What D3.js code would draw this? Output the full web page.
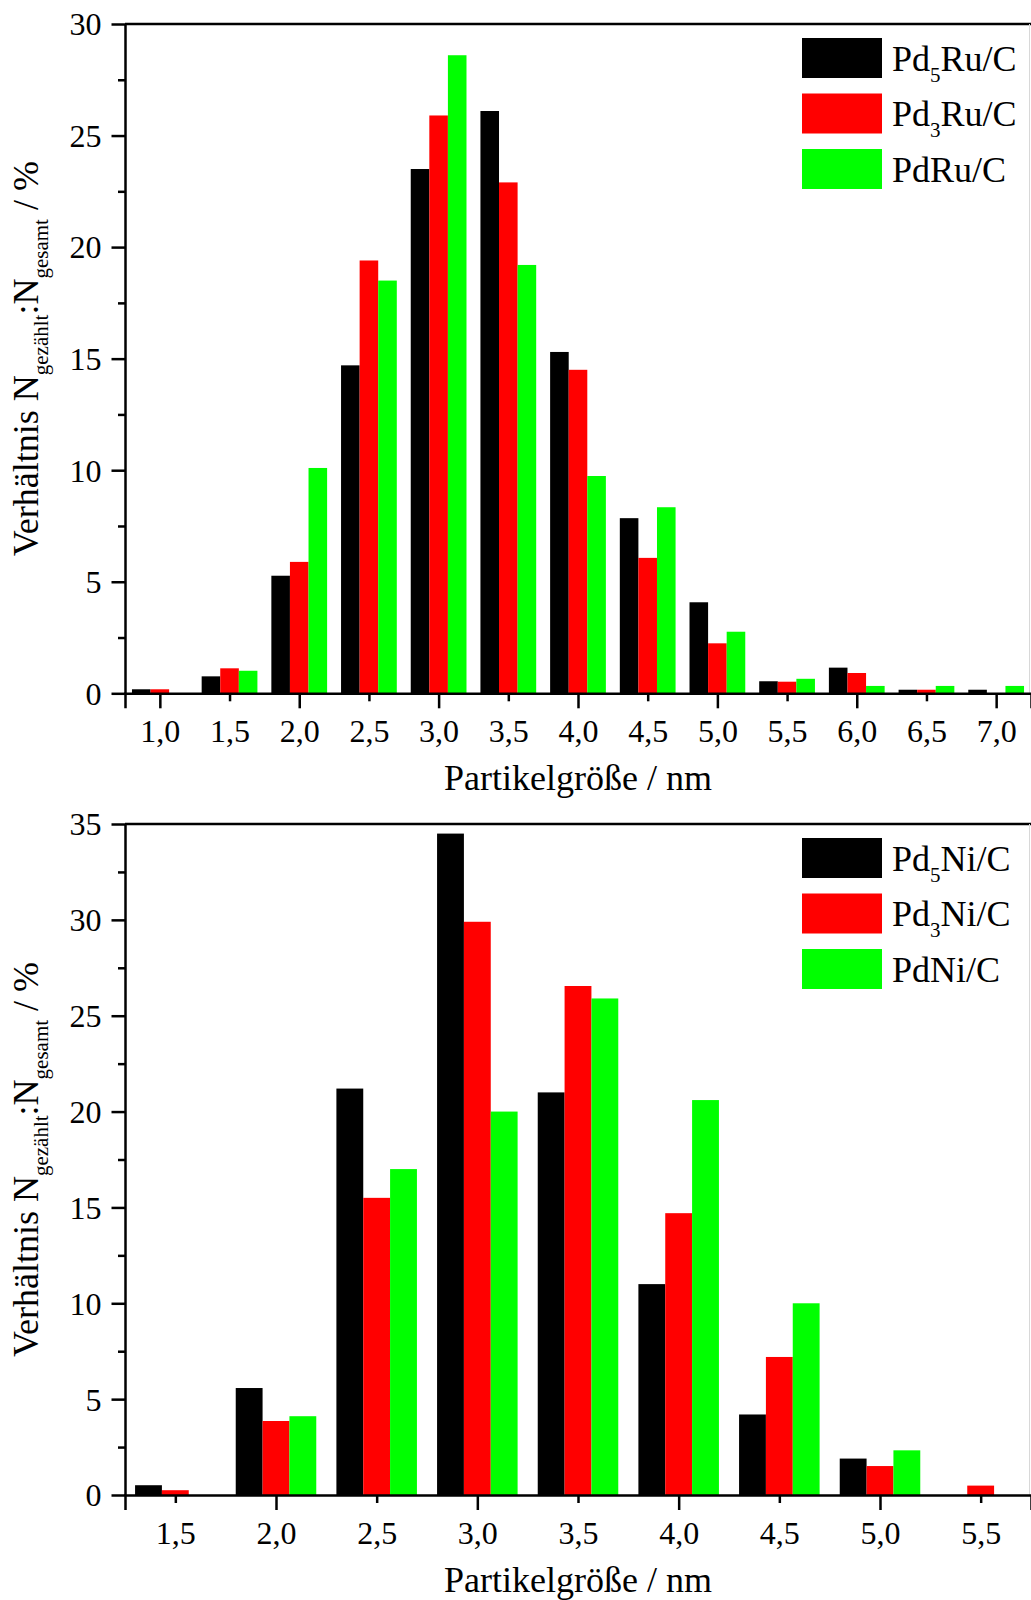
<!DOCTYPE html>
<html><head><meta charset="utf-8">
<script src="https://cdn.jsdelivr.net/npm/d3@7"></script>
<style>
body{margin:0;background:#fff}
svg{display:block}
text{font-family:"Liberation Serif","Times New Roman",serif;fill:#000}
</style>
</head><body><div id="chart"></div>
<script>
// ---------- data ----------
const seriesColors = ["#000000", "#ff0000", "#00ff00"];

const topCategories = [1.0, 1.5, 2.0, 2.5, 3.0, 3.5, 4.0, 4.5, 5.0, 5.5, 6.0, 6.5, 7.0];
const topTickLabels = ["1,0","1,5","2,0","2,5","3,0","3,5","4,0","4,5","5,0","5,5","6,0","6,5","7,0"];
const topPd5Ru = [0.18, 0.76, 5.27, 14.7, 23.5, 26.1, 15.3, 7.85, 4.08, 0.54, 1.15, 0.16, 0.16];
const topPd3Ru = [0.18, 1.12, 5.89, 19.4, 25.9, 22.9, 14.5, 6.07, 2.24, 0.52, 0.91, 0.16, 0];
const topPdRu  = [0, 1.01, 10.1, 18.5, 28.6, 19.2, 9.74, 8.34, 2.76, 0.65, 0.33, 0.33, 0.33];
const topLegend = [["Pd","5","Ru/C"], ["Pd","3","Ru/C"], ["Pd","","Ru/C"]];
const topYTicks = [0, 5, 10, 15, 20, 25, 30];

const botCategories = [1.5, 2.0, 2.5, 3.0, 3.5, 4.0, 4.5, 5.0, 5.5];
const botTickLabels = ["1,5","2,0","2,5","3,0","3,5","4,0","4,5","5,0","5,5"];
const botPd5Ni = [0.51, 5.58, 21.2, 34.5, 21.0, 11.0, 4.2, 1.9, 0];
const botPd3Ni = [0.25, 3.86, 15.5, 29.9, 26.55, 14.7, 7.2, 1.51, 0.49];
const botPdNi  = [0, 4.11, 17.0, 20.0, 25.9, 20.6, 10.0, 2.33, 0];
const botLegend = [["Pd","5","Ni/C"], ["Pd","3","Ni/C"], ["Pd","","Ni/C"]];
const botYTicks = [0, 5, 10, 15, 20, 25, 30, 35];

const xTitle = "Partikelgröße / nm";

// ---------- drawing ----------
const W = 1031, H = 1600;
const svg = d3.select("#chart").append("svg").attr("width", W).attr("height", H);

function drawPanel(o) {
  const g = svg.append("g");
  const x = d3.scaleLinear().domain(o.xDomain).range([o.left, o.right]);
  const y = d3.scaleLinear().domain([0, o.yMax]).range([o.bottom, o.top]);
  const groupW = 0.4, barW = groupW / 3;

  // bars
  o.series.forEach((vals, si) => {
    g.append("g").selectAll("rect").data(vals).join("rect")
      .attr("x", (d, i) => x(o.categories[i] - groupW / 2 + si * barW))
      .attr("width", (d, i) => x(o.categories[i] - groupW / 2 + (si + 1) * barW) - x(o.categories[i] - groupW / 2 + si * barW))
      .attr("y", d => y(d))
      .attr("height", d => y(0) - y(d))
      .attr("fill", seriesColors[si]);
  });

  // frame top & faint right edge
  g.append("line").attr("x1", o.left).attr("x2", o.right).attr("y1", o.top).attr("y2", o.top)
    .attr("stroke", "#000").attr("stroke-width", 2.5);
  g.append("line").attr("x1", o.right - 1.5).attr("x2", o.right - 1.5).attr("y1", o.top).attr("y2", o.bottom)
    .attr("stroke", "#d8d8d8").attr("stroke-width", 1);

  // y minor ticks
  const minorY = d3.range(2.5, o.yMax, 5);
  g.append("g").attr("transform", `translate(${o.left},0)`)
    .call(d3.axisLeft(y).tickValues(minorY).tickSize(7).tickSizeOuter(0).tickFormat(""))
    .call(s => s.select(".domain").remove())
    .call(s => s.selectAll("line").attr("stroke-width", 2.5));
  // y major ticks
  g.append("g").attr("transform", `translate(${o.left},0)`)
    .call(d3.axisLeft(y).tickValues(o.yTicks).tickSize(13.5).tickSizeOuter(0).tickPadding(10).tickFormat(d3.format("d")))
    .call(s => s.select(".domain").attr("stroke-width", 2.5))
    .call(s => s.selectAll("line").attr("stroke-width", 2.5))
    .call(s => s.selectAll("text").attr("font-size", 32).attr("font-family", "Liberation Serif, Times New Roman, serif").attr("dy", "0.34em"));

  // x axis
  g.append("g").attr("transform", `translate(0,${o.bottom})`)
    .call(d3.axisBottom(x).tickValues(o.categories).tickSizeOuter(0).tickSize(15)
      .tickFormat((d, i) => o.tickLabels[i]))
    .call(s => s.select(".domain").attr("stroke-width", 2.5))
    .call(s => s.selectAll(".tick line").attr("stroke-width", 2.5)
      .attr("y2", d => Number.isInteger(d) ? 15 : 8))
    .call(s => s.selectAll("text").attr("font-size", 32).attr("font-family", "Liberation Serif, Times New Roman, serif")
      .attr("y", 49).attr("dy", 0));

  // x title
  g.append("text").attr("x", (o.left + o.right) / 2).attr("y", o.bottom + 97)
    .attr("text-anchor", "middle").attr("font-size", 36).text(xTitle);

  // y title
  const yt = g.append("text")
    .attr("transform", `translate(38,${(o.top + o.bottom) / 2}) rotate(-90)`)
    .attr("text-anchor", "middle").attr("font-size", 36);
  yt.append("tspan").text("Verhältnis N");
  yt.append("tspan").attr("font-size", 21).attr("dy", 10).text("gezählt");
  yt.append("tspan").attr("dy", -10).text(":N");
  yt.append("tspan").attr("font-size", 21).attr("dy", 10).text("gesamt");
  yt.append("tspan").attr("dy", -10).text(" / %");

  // legend
  const lg = g.append("g");
  o.legend.forEach((parts, i) => {
    const ty = o.top + 14 + i * 55.5;
    lg.append("rect").attr("x", 802).attr("y", ty).attr("width", 80).attr("height", 40)
      .attr("fill", seriesColors[i]);
    const t = lg.append("text").attr("x", 892).attr("y", ty + 32.5).attr("font-size", 36);
    t.append("tspan").text(parts[0]);
    if (parts[1]) {
      t.append("tspan").attr("font-size", 21).attr("dy", 11).text(parts[1]);
      t.append("tspan").attr("dy", -11).text(parts[2]);
    } else {
      t.append("tspan").text(parts[2]);
    }
  });
}

drawPanel({
  categories: topCategories, tickLabels: topTickLabels,
  series: [topPd5Ru, topPd3Ru, topPdRu], legend: topLegend,
  xDomain: [0.75, 7.25], yMax: 30, yTicks: topYTicks,
  left: 125, right: 1031, top: 24, bottom: 693.3
});
drawPanel({
  categories: botCategories, tickLabels: botTickLabels,
  series: [botPd5Ni, botPd3Ni, botPdNi], legend: botLegend,
  xDomain: [1.25, 5.75], yMax: 35, yTicks: botYTicks,
  left: 125, right: 1031, top: 824, bottom: 1495
});
</script>
</body></html>
